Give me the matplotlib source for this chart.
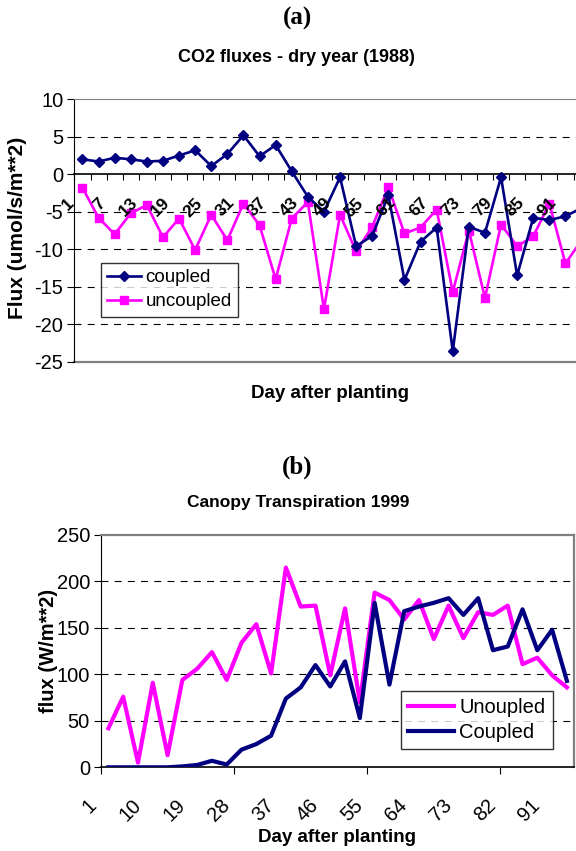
import matplotlib
matplotlib.use('Agg')
import matplotlib.pyplot as plt
import matplotlib.transforms as mtransforms

plt.rcParams['font.family'] = ['Liberation Sans', 'DejaVu Sans']
plt.rcParams['lines.scale_dashes'] = False
plt.rcParams['axes.unicode_minus'] = False

NAVY = '#000080'
PINK = '#FF00FF'
FRAME = '#808080'

# (a) CO2 fluxes, dry year 1988 - one value every 3 days after planting
co2_days = list(range(1, 95, 3))
co2_coupled = [2.0, 1.7, 2.2, 2.0, 1.7, 1.8, 2.5, 3.2, 1.1, 2.7,
               5.2, 2.4, 3.9, 0.4, -3.0, -5.0, -0.4, -9.6, -8.2, -2.8,
               -14.1, -9.0, -7.1, -23.6, -7.0, -7.8, -0.4, -13.5, -5.8, -6.1,
               -5.6, -4.5]
co2_uncoupled = [-1.8, -5.8, -8.0, -5.2, -4.1, -8.4, -5.9, -10.1, -5.4, -8.8,
                 -3.9, -6.8, -14.0, -5.9, -3.7, -18.0, -5.4, -10.3, -7.0, -1.7,
                 -7.9, -7.1, -4.7, -15.7, -7.5, -16.5, -6.7, -9.6, -8.3, -3.9,
                 -11.9, -8.8]
co2_yticks = [-25, -20, -15, -10, -5, 0, 5, 10]

# (b) canopy transpiration 1999
tr_days = list(range(1, 95, 3))
tr_uncoupled = [42, 76, 5, 91, 13, 94, 106, 124, 94, 134,
                154, 101, 215, 173, 174, 99, 171, 70, 188, 180,
                159, 180, 138, 174, 139, 167, 164, 174, 111, 118,
                99, 86]
tr_coupled = [0, 0, 0, 0, 0, 1, 2.5, 7, 3, 19,
              25, 34, 74, 86, 110, 87, 114, 53, 177, 89,
              168, 173, 177, 182, 164, 182, 126, 130, 170, 126,
              148, 93]
tr_yticks = [0, 50, 100, 150, 200, 250]

W, H = 576, 851
fig = plt.figure(figsize=(W / 100, H / 100), dpi=100)


def px_axes(left, top, right, bottom):
    return fig.add_axes([left / W, 1 - bottom / H, (right - left) / W, (bottom - top) / H])


def grid(ax, values):
    for v in values:
        ax.axhline(v, color='black', lw=0.8, ls=(0, (5, 4.5)), zorder=1)


# ---------- panel (a) ----------
ax1 = px_axes(74.4, 99.3, 589.6, 361.7)
x1 = list(range(len(co2_days)))
ax1.set_xlim(-0.5, len(co2_days) - 0.5)
ax1.set_ylim(-25, 10)
grid(ax1, [5, -5, -10, -15, -20])
ax1.plot(x1, co2_coupled, color=NAVY, lw=1.9, marker='D', ms=4.8, zorder=4, label='coupled')
ax1.plot(x1, co2_uncoupled, color=PINK, lw=1.9, marker='s', ms=6.4, zorder=3, label='uncoupled')

for s in ['top', 'right']:
    ax1.spines[s].set_color(FRAME)
ax1.spines['left'].set_color('black')
ax1.spines['bottom'].set_position(('data', 0))
ax1.spines['bottom'].set_color('black')
ax1.spines['bottom'].set_linewidth(1.2)
ax1.axhline(-25, color=FRAME, lw=1.6, clip_on=False, zorder=0)

ax1.set_yticks(co2_yticks)
ax1.tick_params(axis='y', direction='out', length=5, labelsize=14.5, pad=3)
ax1.set_xticks([i - 0.5 for i in range(len(co2_days) + 1)])
ax1.set_xticklabels([])
ax1.tick_params(axis='x', direction='out', length=4.5, color='black')

shift1 = mtransforms.ScaledTranslation(-0.06, -0.21, fig.dpi_scale_trans)
for i in range(0, len(co2_days), 2):
    ax1.text(i, 0, str(co2_days[i]), transform=ax1.transData + shift1, rotation=45,
             ha='right', va='top', fontsize=12.5, fontweight='bold', zorder=5)

leg1 = ax1.legend(loc='upper left', bbox_to_anchor=(0.051, 0.377), borderaxespad=0,
                  fontsize=13.5, frameon=True, fancybox=False, edgecolor='black',
                  handlelength=1.8, handletextpad=0.25, borderpad=0.35, labelspacing=0.35)
leg1.get_frame().set_linewidth(1.0)

fig.text(297 / W, 1 - 18 / H, '(a)', family='Liberation Serif', fontweight='bold',
         fontsize=18, ha='center', va='center')
fig.text(296 / W, 1 - 57 / H, 'CO2 fluxes - dry year (1988)', fontweight='bold',
         fontsize=13, ha='center', va='center')
fig.text(18 / W, 1 - 228 / H, 'Flux (umol/s/m**2)', fontweight='bold', fontsize=15,
         rotation=90, ha='center', va='center')
fig.text(330 / W, 1 - 393 / H, 'Day after planting', fontweight='bold', fontsize=13.5,
         ha='center', va='center')

# ---------- panel (b) ----------
ax2 = px_axes(101, 535, 574.3, 767.3)
x2 = list(range(len(tr_days)))
ax2.set_xlim(-0.5, len(tr_days) - 0.5)
ax2.set_ylim(0, 250)
grid(ax2, [50, 100, 150, 200])
ax2.plot(x2, tr_uncoupled, color=PINK, lw=3.0, zorder=3, label='Unoupled')
ax2.plot(x2, tr_coupled, color=NAVY, lw=3.0, zorder=4, label='Coupled')

for s in ['top', 'right']:
    ax2.spines[s].set_color(FRAME)
    ax2.spines[s].set_linewidth(1.6)
ax2.spines['left'].set_color('black')
ax2.spines['bottom'].set_color('black')
ax2.spines['bottom'].set_linewidth(1.2)

ax2.set_yticks(tr_yticks)
ax2.tick_params(axis='y', direction='out', length=5, labelsize=14.5, pad=3)
ax2.set_xticks([i - 0.5 for i in range(0, len(tr_days) + 1, 9)])
ax2.set_xticklabels([])
ax2.tick_params(axis='x', direction='out', length=5, color='black')

shift2 = mtransforms.ScaledTranslation(-0.08, -0.28, fig.dpi_scale_trans)
for i in range(0, len(tr_days), 3):
    ax2.text(i, 0, str(tr_days[i]), transform=ax2.transData + shift2, rotation=45,
             ha='right', va='top', fontsize=14.5, clip_on=False)

leg2 = ax2.legend(loc='upper left', bbox_to_anchor=(0.634, 0.33), borderaxespad=0,
                  fontsize=14.5, frameon=True, fancybox=False, edgecolor='black',
                  handlelength=2.3, handletextpad=0.25, borderpad=0.35, labelspacing=0.3)
leg2.get_frame().set_linewidth(1.0)

fig.text(297 / W, 1 - 467 / H, '(b)', family='Liberation Serif', fontweight='bold',
         fontsize=18, ha='center', va='center')
fig.text(298 / W, 1 - 503 / H, 'Canopy Transpiration 1999', fontweight='bold',
         fontsize=12.5, ha='center', va='center')
fig.text(48 / W, 1 - 651 / H, 'flux (W/m**2)', fontweight='bold', fontsize=14.5,
         rotation=90, ha='center', va='center')
fig.text(337 / W, 1 - 838 / H, 'Day after planting', fontweight='bold', fontsize=13.5,
         ha='center', va='center')

fig.savefig('out.png', dpi=100)
